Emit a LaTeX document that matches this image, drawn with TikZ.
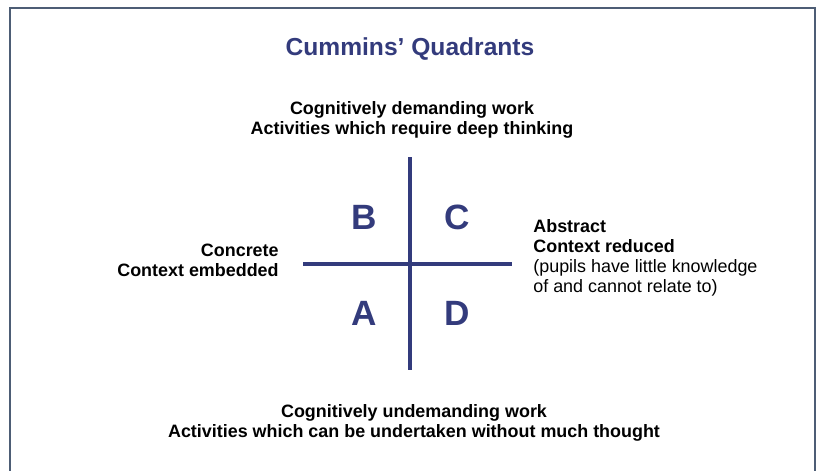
\documentclass[tikz,border=0pt]{standalone}
\usepackage{fontspec}
\setmainfont{Liberation Sans}
\definecolor{quadnavy}{HTML}{333B7C}
\definecolor{framegrey}{HTML}{4D5D75}

\begin{document}
\begin{tikzpicture}[x=0.02cm, y=-0.02cm,
		label/.style={font=\fontsize{10.2}{11.4}\selectfont\bfseries, inner sep=0pt},
		letter/.style={font=\fontsize{20}{20}\selectfont\bfseries, text=quadnavy, inner sep=0pt},
		axis/.style={draw=quadnavy, line width=2.2pt}]
				\useasboundingbox (0,0) rectangle (820,470);
				\draw[framegrey, line width=1.1pt] (10,475) -- (10,8) -- (815,8) -- (815,475);

				\node[font=\fontsize{14}{14}\selectfont\bfseries, text=quadnavy] (title) at (410,49) {Cummins' Quadrants};

				\node[label, align=center] (top) at (412,120) {Cognitively demanding work\\Activities which require deep thinking};
				\node[label, align=center] (bottom) at (414,423) {Cognitively undemanding work\\Activities which can be undertaken without much thought};
				\node[label, align=right, anchor=east] (left) at (279,260) {Concrete\\Context embedded};
				\node[label, align=left, anchor=west] (right) at (533,258) {Abstract\\Context reduced\\\mdseries(pupils have little knowledge\\\mdseries of and cannot relate to)};

				\coordinate (n) at (410,157); \coordinate (s) at (410,370);
				\coordinate (w) at (303,264); \coordinate (e) at (512,264);
				\draw[axis] (n) -- (s) (w) -- (e);

				\node[letter] (B) at (364,217) {B}; \node[letter] (C) at (457,217) {C};
				\node[letter] (A) at (364,313) {A}; \node[letter] (D) at (457,313) {D};
			\end{tikzpicture}
\end{document}
